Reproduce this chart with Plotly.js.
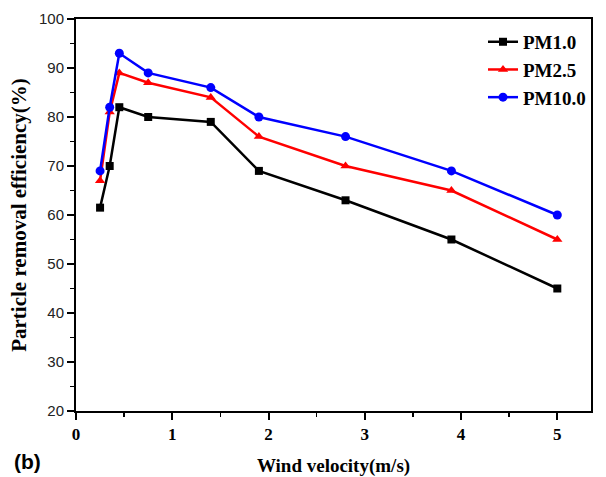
<!DOCTYPE html>
<html>
<head>
<meta charset="utf-8">
<script src="https://cdn.plot.ly/plotly-3.0.1.min.js"></script>
<style>html,body{margin:0;padding:0;background:#fff;}#chart{width:606px;height:477px;}</style>
</head>
<body>
<div id="chart"></div>
<script>
const windVelocity = [0.25, 0.35, 0.45, 0.75, 1.4, 1.9, 2.8, 3.9, 5.0];
const pm10Eff = [61.5, 70, 82, 80, 79, 69, 63, 55, 45];
const pm25Eff = [67, 81, 89, 87, 84, 76, 70, 65, 55];
const pm100Eff = [69, 82, 93, 89, 86, 80, 76, 69, 60];
const seriesNames = ["PM1.0", "PM2.5", "PM10.0"];
const xTickVals = [0, 1, 2, 3, 4, 5];

const traces = [
  {x: windVelocity, y: pm10Eff, name: seriesNames[0], mode: "lines+markers",
   line: {color: "#000000", width: 2.5}, marker: {symbol: "square", size: 8, color: "#000000"}},
  {x: windVelocity, y: pm25Eff, name: seriesNames[1], mode: "lines+markers",
   line: {color: "#ff0000", width: 2.5}, marker: {symbol: "triangle-up", size: 9, color: "#ff0000"}},
  {x: windVelocity, y: pm100Eff, name: seriesNames[2], mode: "lines+markers",
   line: {color: "#0000ff", width: 2.5}, marker: {symbol: "circle", size: 9, color: "#0000ff"}}
];

const serif = "Liberation Serif, Times New Roman, serif";
const sans = "Liberation Sans, Arial, sans-serif";

const layout = {
  width: 606, height: 477,
  margin: {l: 76, r: 15, t: 19, b: 66},
  paper_bgcolor: "#fff", plot_bgcolor: "#fff",
  showlegend: true,
  legend: {x: 1.0, y: 0.99, xanchor: "right", yanchor: "top",
           font: {family: serif, size: 19, color: "#000", weight: "bold"}, bgcolor: "rgba(0,0,0,0)",
           tracegroupgap: 0, itemwidth: 30},
  xaxis: {
    range: [0, 5.35], tickvals: xTickVals,
    ticks: "outside", ticklen: 7, tickwidth: 2, tickcolor: "#000",
    minor: {dtick: 0.5, tick0: 0, ticks: "outside", ticklen: 4, tickwidth: 1.5, tickcolor: "#000"},
    showline: true, linewidth: 2, linecolor: "#000", mirror: true,
    showgrid: false, zeroline: false,
    tickfont: {family: serif, size: 17, color: "#000", weight: "bold"},
    title: {text: "Wind velocity(m/s)", font: {family: serif, size: 19, color: "#000", weight: "bold"}, standoff: 16}
  },
  yaxis: {
    range: [20, 100], dtick: 10, tick0: 0,
    ticks: "outside", ticklen: 7, tickwidth: 2, tickcolor: "#000",
    minor: {dtick: 5, tick0: 0, ticks: "outside", ticklen: 4, tickwidth: 1.5, tickcolor: "#000"},
    showline: true, linewidth: 2, linecolor: "#000", mirror: true,
    showgrid: false, zeroline: false,
    tickfont: {family: sans, size: 15, color: "#222"},
    title: {text: "Particle removal efficiency(%)", font: {family: serif, size: 21, color: "#000", weight: "bold"}, standoff: 7}
  },
  annotations: [
    {text: "(b)", xref: "paper", yref: "paper", x: -0.125, y: -0.13, xanchor: "left", yanchor: "middle",
     showarrow: false, font: {family: sans, size: 21, color: "#000", weight: "bold"}}
  ]
};

Plotly.newPlot("chart", traces, layout, {displayModeBar: false, staticPlot: true});
</script>
</body>
</html>
